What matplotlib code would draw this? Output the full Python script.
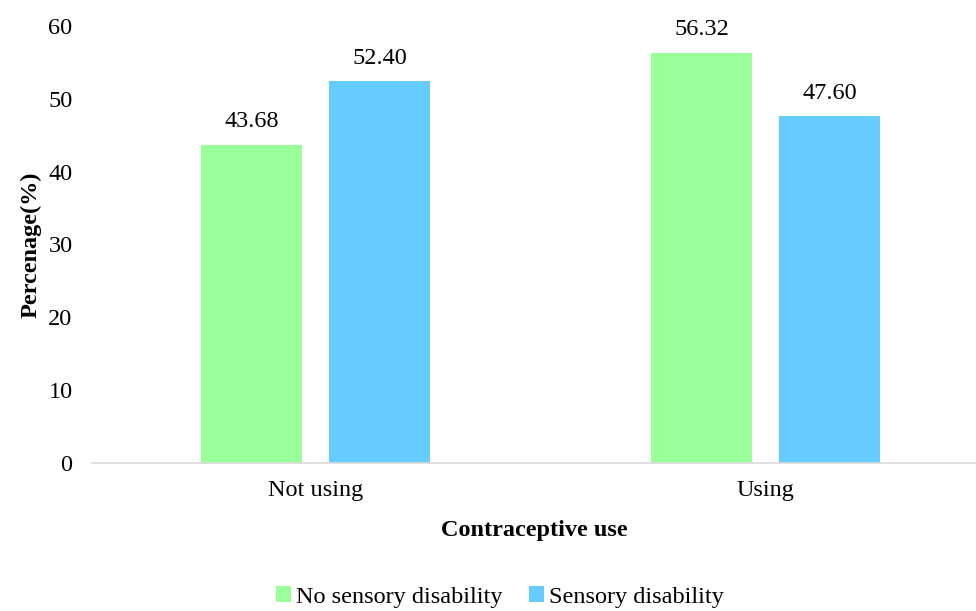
import matplotlib.pyplot as plt
import numpy as np

plt.rcParams["font.family"] = ["Liberation Serif", "DejaVu Serif"]

categories = ["Not using", "Using"]
no_sensory = [43.68, 56.32]
sensory = [52.40, 47.60]
series_names = ["No sensory disability", "Sensory disability"]
colors = ["#99FF99", "#66CCFF"]

fig = plt.figure(figsize=(9.76, 6.11), dpi=100)
ax = fig.add_axes([92 / 976, 148 / 611, 884 / 976, 437 / 611])

x = np.arange(len(categories))
w = 0.2244
off = 0.1422
b1 = ax.bar(x - off, no_sensory, w, color=colors[0], label=series_names[0])
b2 = ax.bar(x + off, sensory, w, color=colors[1], label=series_names[1])

for bars in (b1, b2):
    for rect in bars:
        h = rect.get_height()
        ax.annotate(f"{h:.2f}", (rect.get_x() + rect.get_width() / 2, h),
                    xytext=(0, 9), textcoords="offset points",
                    ha="center", va="bottom", fontsize=17.5)

ax.set_xlim((92 - 315.5) / 450, (976 - 315.5) / 450)
ax.set_ylim(0, 60)
ax.set_yticks(range(0, 61, 10))
ax.set_xticks(x)
ax.set_xticklabels(categories)
ax.tick_params(axis="both", length=0, labelsize=17.5)
ax.tick_params(axis="x", pad=12)
ax.tick_params(axis="y", pad=14)

for s in ["top", "right", "left"]:
    ax.spines[s].set_visible(False)
ax.spines["bottom"].set_color("#d9d9d9")
ax.spines["bottom"].set_linewidth(1.2)

ax.set_xlabel("Contraceptive use", fontsize=17.5, fontweight="bold", labelpad=14)
ax.set_ylabel("Percenage(%)", fontsize=17.5, fontweight="bold", labelpad=5)

fig.legend(loc="center", bbox_to_anchor=(500 / 976, 1 - 597 / 611), ncol=2,
           frameon=False, fontsize=17.5, handlelength=0.6, handleheight=0.6,
           handletextpad=0.2, columnspacing=1.1)

fig.savefig("out.png", dpi=100)
